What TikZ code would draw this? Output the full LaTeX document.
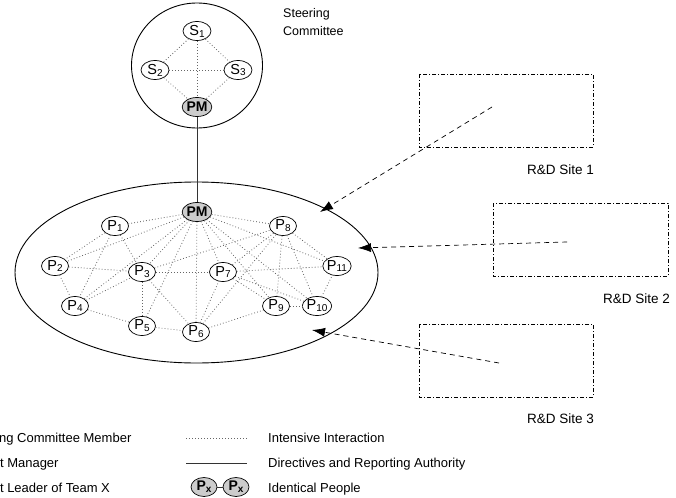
\documentclass[tikz,border=0pt]{standalone}
\usepackage{fontspec}
\setmainfont{Liberation Sans}
\usetikzlibrary{shapes.geometric,arrows.meta}
\newcommand\ix[1]{\raisebox{-0.25ex}{\fontsize{10}{11}\selectfont #1}}
\tikzset{
  person/.style={ellipse,draw,line width=0.7pt,minimum width=27pt,minimum height=19pt,inner sep=0pt,font=\fontsize{14.5}{15}\selectfont},
  boss/.style={person,fill=black!20,font=\fontsize{14}{15}\selectfont\bfseries},
  talk/.style={line width=0.8pt,black!60,dash pattern=on 0.8pt off 2.2pt},
  report/.style={line width=0.8pt,black!80},
  group/.style={draw,line width=0.9pt},
  site/.style={draw,line width=0.7pt,dash pattern=on 4pt off 2pt on 1pt off 2pt},
  feed/.style={line width=0.7pt,dash pattern=on 5pt off 4pt,-{Latex[length=13pt,width=9pt]}},
  lbl/.style={font=\fontsize{13}{15}\selectfont,inner sep=0pt},
  sitelbl/.style={font=\fontsize{13.5}{16}\selectfont,inner sep=0pt}
}
\begin{document}
\begin{tikzpicture}[x=1pt,y=-1pt]
\useasboundingbox (0,0) rectangle (676,497);
\clip (0,0) rectangle (676,497);

% steering committee
\draw[group] (197,65.5) ellipse [x radius=65.5, y radius=62.5];
\node[person,minimum width=28pt] (s1) at (197,31) {S\ix{1}};
\node[person,minimum width=28pt] (s2) at (155,70) {S\ix{2}};
\node[person,minimum width=28pt] (s3) at (238,70) {S\ix{3}};
\node[boss]   (pmt) at (197,107) {PM};
\node[lbl,font=\fontsize{12.5}{14}\selectfont,anchor=west] (sclab) at (283,14) {Steering};
\node[lbl,font=\fontsize{12.5}{14}\selectfont,anchor=west] (sclab2) at (283,31) {Committee};
\foreach \a/\b in {s1/s2,s1/s3,s2/s3,s1/pmt,s2/pmt,s3/pmt}
  \draw[talk] (\a) -- (\b);

% project team
\draw[group] (196.5,272.5) ellipse [x radius=181.5, y radius=90.5];
\node[boss]   (pm)  at (197,212) {PM};
\node[person] (p1)  at (115,226) {P\ix{1}};
\node[person] (p8)  at (283,226) {P\ix{8}};
\node[person] (p2)  at (55,266)  {P\ix{2}};
\node[person] (p3)  at (142,272) {P\ix{3}};
\node[person] (p7)  at (223,272) {P\ix{7}};
\node[person,minimum width=26pt] (p11) at (337,266) {P\ix{11}};
\node[person] (p4)  at (75,306)  {P\ix{4}};
\node[person] (p9)  at (276,306) {P\ix{9}};
\node[person,minimum width=26pt] (p10) at (317,306) {P\ix{10}};
\node[person] (p5)  at (142,326) {P\ix{5}};
\node[person] (p6)  at (196,332) {P\ix{6}};

\draw[report] (pmt) -- (pm);

\foreach \a/\b in {pm/p1,pm/p2,pm/p3,pm/p4,pm/p5,pm/p6,pm/p7,pm/p8,pm/p9,pm/p10,pm/p11,
                   p1/p2,p1/p3,p1/p4,p2/p3,p2/p4,p4/p3,p4/p5,
                   p3/p5,p3/p6,p3/p7,p3/p8,p5/p6,
                   p6/p7,p6/p8,p6/p9,p7/p8,p7/p9,p7/p10,p7/p11,
                   p8/p9,p8/p10,p8/p11,p9/p10,p10/p11}
  \draw[talk] (\a) -- (\b);

% R&D sites
\draw[site] (419,74) rectangle (593,147);
\node[sitelbl,anchor=base east] (site1) at (594,175) {R\&D Site 1};
\draw[site] (493,203) rectangle (668,276);
\node[sitelbl,anchor=base east] (site2) at (670,303) {R\&D Site 2};
\draw[site] (419,324) rectangle (593,397);
\node[sitelbl,anchor=base east] (site3) at (594,423) {R\&D Site 3};

\coordinate (a1) at (492,107);
\coordinate (t1) at (320,212);
\coordinate (a2) at (567,242);
\coordinate (t2) at (358,248);
\coordinate (a3) at (499,363);
\coordinate (t3) at (312,330);
\draw[feed] (a1) -- (t1);
\draw[feed] (a2) -- (t2);
\draw[feed] (a3) -- (t3);

% legend
\node[lbl,anchor=base west] (k1) at (-35,442) {Steering Committee Member};
\node[lbl,anchor=base west] (k2) at (-37,467) {Project Manager};
\node[lbl,anchor=base west] (k3) at (-37,492) {Project Leader of Team X};

\coordinate (d1) at (186,438);
\coordinate (d2) at (247,438);
\draw[talk,line width=0.6pt] (d1) -- (d2);
\node[lbl,anchor=base west] (k4) at (268,442) {Intensive Interaction};
\coordinate (r1) at (186,463);
\coordinate (r2) at (247,463);
\draw[report] (r1) -- (r2);
\node[lbl,anchor=base west] (k5) at (268,467) {Directives and Reporting Authority};
\node[boss,minimum width=26pt] (x1) at (204,487) {P\ix{x}};
\node[boss,minimum width=26pt] (x2) at (236,487) {P\ix{x}};
\draw[report] (x1) -- (x2);
\node[lbl,anchor=base west] (k6) at (268,492) {Identical People};
\end{tikzpicture}
\end{document}
